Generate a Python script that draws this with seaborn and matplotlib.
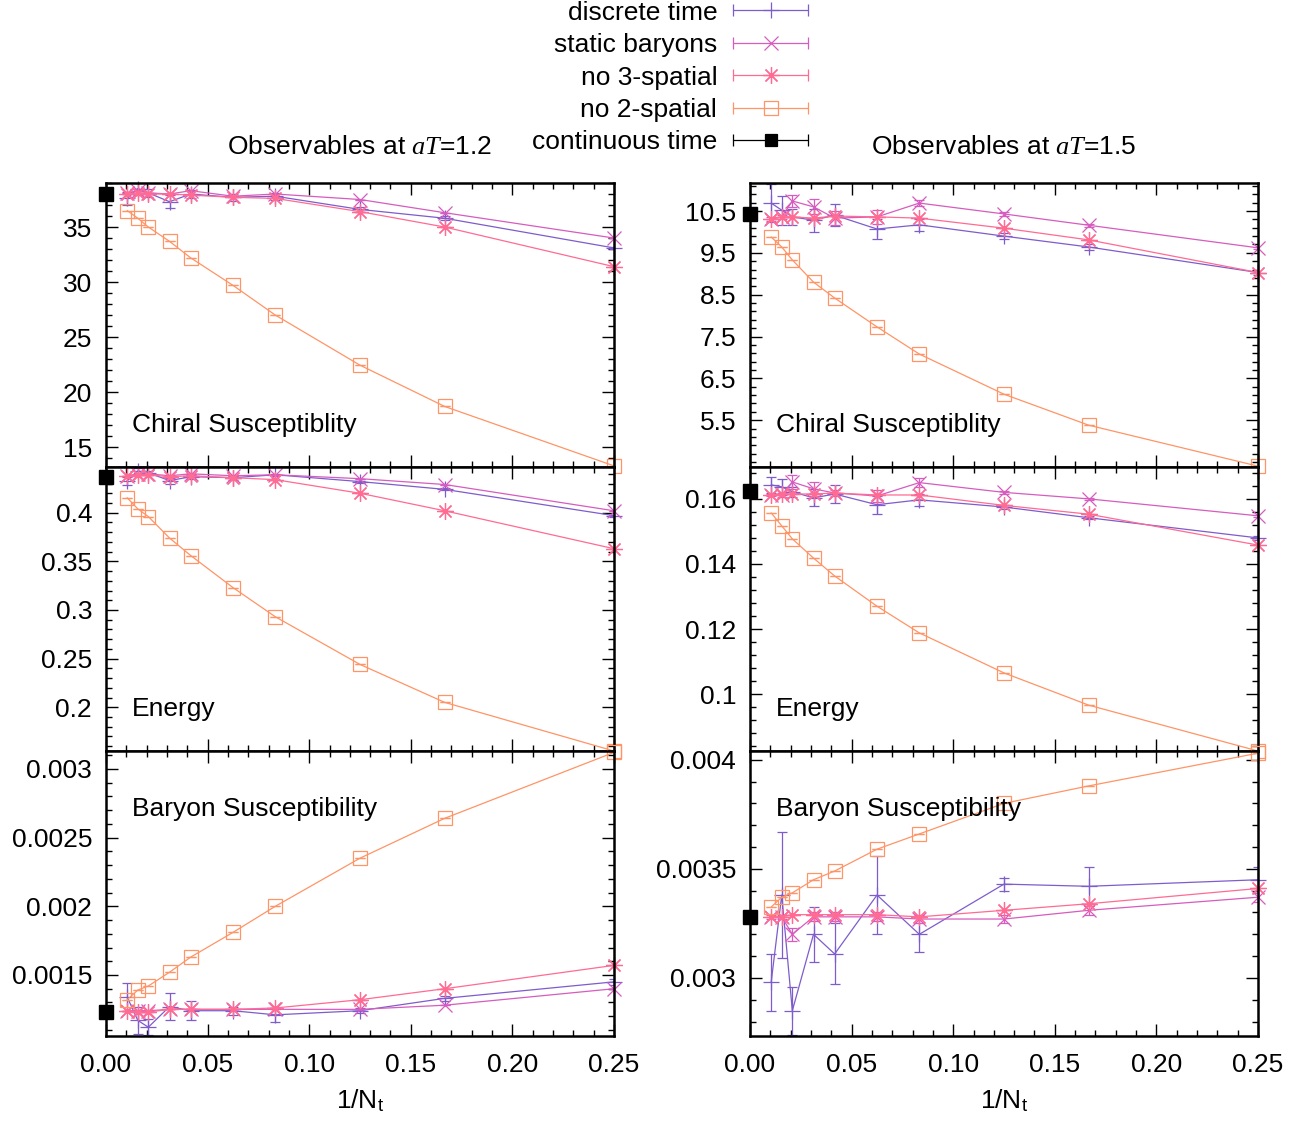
import numpy as np
import pandas as pd
import matplotlib
matplotlib.use("Agg")
import matplotlib.pyplot as plt
import seaborn as sns
from matplotlib.lines import Line2D
from matplotlib.legend_handler import HandlerLine2D
from matplotlib.ticker import FixedLocator, FixedFormatter, AutoMinorLocator, NullFormatter

# ---------------- data ----------------
nt = [96, 64, 48, 32, 24, 16, 12, 8, 6, 4]
series_names = ["discrete time", "static baryons", "no 3-spatial", "no 2-spatial"]
legend_labels = ["discrete time", "static baryons", "no 3-spatial", "no 2-spatial", "continuous time"]

# aT = 1.2, chiral susceptibility
chi12_disc = [37.6, 38.5, 38.1, 37.3, 38.0, 37.7, 37.8, 36.6, 35.8, 33.1]
chi12_disc_err = [0.6, 0.6, 0.4, 0.6, 0.4, 0.3, 0.3, 0.2, 0.2, 0.1]
chi12_stat = [38.1, 38.3, 38.1, 38.0, 38.3, 37.8, 38.0, 37.5, 36.3, 34.0]
chi12_no3 = [38.0, 38.1, 38.0, 38.0, 37.9, 37.7, 37.6, 36.4, 35.0, 31.4]
chi12_no2 = [36.5, 35.8, 35.0, 33.7, 32.2, 29.7, 27.0, 22.45, 18.7, 13.3]
chi12_cont = 38.0

# aT = 1.5, chiral susceptibility
chi15_disc = [10.69, 10.52, 10.36, 10.28, 10.40, 10.07, 10.17, 9.90, 9.64, 9.03]
chi15_disc_err = [0.45, 0.35, 0.2, 0.28, 0.27, 0.24, 0.14, 0.08, 0.08, 0.05]
chi15_stat = [10.31, 10.36, 10.74, 10.60, 10.33, 10.36, 10.69, 10.43, 10.16, 9.62]
chi15_stat_err = [0.05, 0.05, 0.14, 0.18, 0.16, 0.16, 0.08, 0.05, 0.04, 0.03]
chi15_no3 = [10.31, 10.36, 10.36, 10.33, 10.38, 10.36, 10.33, 10.09, 9.81, 9.03]
chi15_no2 = [9.88, 9.64, 9.33, 8.80, 8.42, 7.73, 7.08, 6.12, 5.38, 4.40]
chi15_cont = 10.43

# aT = 1.2, energy
en12_disc = [0.433, 0.443, 0.441, 0.433, 0.437, 0.436, 0.439, 0.432, 0.424, 0.397]
en12_disc_err = [0.004, 0.003, 0.002, 0.003, 0.002, 0.002, 0.001, 0.001, 0.001, 0.001]
en12_stat = [0.438, 0.440, 0.440, 0.438, 0.440, 0.438, 0.439, 0.435, 0.429, 0.402]
en12_no3 = [0.438, 0.439, 0.439, 0.437, 0.438, 0.436, 0.434, 0.420, 0.402, 0.363]
en12_no2 = [0.4154, 0.404, 0.396, 0.374, 0.356, 0.323, 0.293, 0.244, 0.205, 0.155]
en12_cont = 0.437

# aT = 1.5, energy
en15_disc = [0.1643, 0.1637, 0.1622, 0.1603, 0.1615, 0.1582, 0.1597, 0.1575, 0.1542, 0.1480]
en15_disc_err = [0.0025, 0.0025, 0.0015, 0.0026, 0.0028, 0.0028, 0.0018, 0.0006, 0.0005, 0.0005]
en15_stat = [0.1612, 0.1612, 0.1652, 0.1631, 0.1618, 0.1609, 0.1650, 0.1620, 0.1600, 0.1548]
en15_stat_err = [0.0004, 0.0005, 0.0022, 0.0022, 0.0010, 0.0018, 0.0013, 0.0004, 0.0003, 0.0003]
en15_no3 = [0.1612, 0.1615, 0.1615, 0.1615, 0.1618, 0.1612, 0.1612, 0.1580, 0.1553, 0.1458]
en15_no2 = [0.1557, 0.1517, 0.1477, 0.1418, 0.1363, 0.1270, 0.1188, 0.1065, 0.0966, 0.0825]
en15_cont = 0.1625

# aT = 1.2, baryon susceptibility
bs12_disc = [0.00134, 0.00117, 0.00112, 0.00127, 0.00124, 0.00124, 0.00121, 0.00124, 0.00133, 0.00145]
bs12_disc_err = [0.0001, 0.0001, 0.00006, 0.0001, 0.00007, 0.00003, 0.00005, 0.00002, 0.00002, 0.00002]
bs12_stat = [0.00124, 0.00124, 0.00124, 0.00125, 0.00125, 0.00125, 0.00125, 0.00125, 0.00128, 0.00140]
bs12_no3 = [0.00124, 0.00123, 0.00123, 0.00125, 0.00125, 0.00125, 0.00126, 0.00132, 0.00140, 0.00157]
bs12_no2 = [0.00132, 0.00139, 0.00142, 0.00152, 0.00163, 0.00181, 0.00200, 0.00235, 0.00264, 0.00312]
bs12_cont = 0.00123

# aT = 1.5, baryon susceptibility
bs15_disc = [0.00298, 0.00338, 0.00285, 0.00320, 0.00311, 0.00338, 0.00320, 0.00343, 0.00342, 0.00345]
bs15_disc_err = [0.00013, 0.00029, 0.00011, 0.000125, 0.00014, 0.00018, 0.00008, 0.00003, 0.00009, 0.00006]
bs15_stat = [0.00328, 0.00328, 0.00320, 0.00328, 0.00328, 0.00328, 0.00327, 0.00327, 0.00331, 0.00337]
bs15_stat_err = [0.00001, 0.00001, 0.00003, 0.00002, 0.00002, 0.00002, 0.00002, 0.00002, 0.00002, 0.00002]
bs15_no3 = [0.00328, 0.00328, 0.00329, 0.00329, 0.00329, 0.00329, 0.00328, 0.00331, 0.00334, 0.00341]
bs15_no2 = [0.003325, 0.00337, 0.00339, 0.00345, 0.00349, 0.00359, 0.00366, 0.00380, 0.00388, 0.00403]
bs15_cont = 0.00328

# ticks
xticks = [0.0, 0.05, 0.10, 0.15, 0.20, 0.25]
xticklabels = ["0.00", "0.05", "0.10", "0.15", "0.20", "0.25"]
chi12_ticks = [15, 20, 25, 30, 35]
chi12_ticklabels = ["15", "20", "25", "30", "35"]
chi15_ticks = [5.5, 6.5, 7.5, 8.5, 9.5, 10.5]
chi15_ticklabels = ["5.5", "6.5", "7.5", "8.5", "9.5", "10.5"]
en12_ticks = [0.2, 0.25, 0.3, 0.35, 0.4]
en12_ticklabels = ["0.2", "0.25", "0.3", "0.35", "0.4"]
en15_ticks = [0.1, 0.12, 0.14, 0.16]
en15_ticklabels = ["0.1", "0.12", "0.14", "0.16"]
bs12_ticks = [0.0015, 0.002, 0.0025, 0.003]
bs12_ticklabels = ["0.0015", "0.002", "0.0025", "0.003"]
bs15_ticks = [0.003, 0.0035, 0.004]
bs15_ticklabels = ["0.003", "0.0035", "0.004"]

# ---------------- style ----------------
sns.set_theme(style="ticks")
plt.rcParams["font.family"] = ["Liberation Sans", "DejaVu Sans"]
plt.rcParams["mathtext.fontset"] = "custom"
plt.rcParams["mathtext.rm"] = "Liberation Sans"
plt.rcParams["mathtext.it"] = "Liberation Serif:italic"
for key in ["text.color", "axes.labelcolor", "xtick.color", "ytick.color",
            "xtick.labelcolor", "ytick.labelcolor", "axes.edgecolor"]:
    plt.rcParams[key] = "black"
FS = 19

styles = {
    "discrete time": dict(color="#7e5ccc", marker="+", ms=11, mfc="#7e5ccc"),
    "static baryons": dict(color="#d65cbf", marker="x", ms=10, mfc="#d65cbf"),
    "no 3-spatial": dict(color="#ff6b93", marker=(8, 2, 0), ms=12, mfc="#ff6b93"),
    "no 2-spatial": dict(color="#ff9466", marker="s", ms=10, mfc="none"),
}

x = 1.0 / np.array(nt, dtype=float)

fig = plt.figure(figsize=(13.16, 11.22), dpi=100)
W, H = 1316.0, 1122.0

def make_ax(x0, x1, y0, y1):
    return fig.add_axes([x0 / W, 1 - y1 / H, (x1 - x0) / W, (y1 - y0) / H])

panels = [
    ((106, 614, 183, 467), [chi12_disc, chi12_stat, chi12_no3, chi12_no2],
     [chi12_disc_err, 0, 0, 0], chi12_cont, (13.2, 39.0), chi12_ticks, chi12_ticklabels,
     "Chiral Susceptiblity", 0.148, False, r"Observables at $aT$=1.2"),
    ((106, 614, 467, 751), [en12_disc, en12_stat, en12_no3, en12_no2],
     [en12_disc_err, 0, 0, 0], en12_cont, (0.155, 0.447), en12_ticks, en12_ticklabels,
     "Energy", 0.148, False, None),
    ((106, 614, 751, 1036), [bs12_disc, bs12_stat, bs12_no3, bs12_no2],
     [bs12_disc_err, 0, 0, 0], bs12_cont, (0.001056, 0.00313), bs12_ticks, bs12_ticklabels,
     "Baryon Susceptibility", 0.796, True, None),
    ((750, 1258, 183, 467), [chi15_disc, chi15_stat, chi15_no3, chi15_no2],
     [chi15_disc_err, chi15_stat_err, 0, 0], chi15_cont, (4.38, 11.17), chi15_ticks, chi15_ticklabels,
     "Chiral Susceptiblity", 0.148, False, r"Observables at $aT$=1.5"),
    ((750, 1258, 467, 751), [en15_disc, en15_stat, en15_no3, en15_no2],
     [en15_disc_err, en15_stat_err, 0, 0], en15_cont, (0.0825, 0.1698), en15_ticks, en15_ticklabels,
     "Energy", 0.148, False, None),
    ((750, 1258, 751, 1036), [bs15_disc, bs15_stat, bs15_no3, bs15_no2],
     [bs15_disc_err, bs15_stat_err, 0, 0], bs15_cont, (0.002734, 0.00404), bs15_ticks, bs15_ticklabels,
     "Baryon Susceptibility", 0.796, True, None),
]

for box, ys, errs, cont, ylim, yt, ytl, label, ly, show_x, title in panels:
    ax = make_ax(*box)
    for name, y, err in zip(series_names, ys, errs):
        st = styles[name]
        df = pd.DataFrame({"x": x, "y": y})
        sns.lineplot(data=df, x="x", y="y", ax=ax, color=st["color"], linewidth=0.9,
                     marker=st["marker"], ms=st["ms"], mew=0.9, mec=st["color"],
                     mfc=st["mfc"], clip_on=False, legend=False, errorbar=None)
        ax.errorbar(x, y, yerr=err, fmt="none", ecolor=st["color"], elinewidth=0.9,
                    capsize=3.6, capthick=0.9)
    ax.plot([0.0], [cont], ls="none", marker="s", ms=9.5, color="black",
            clip_on=False, zorder=10)
    ax.set_xlim(0, 0.25)
    ax.set_ylim(*ylim)
    ax.set_xlabel("")
    ax.set_ylabel("")
    ax.xaxis.set_major_locator(FixedLocator(xticks))
    ax.yaxis.set_major_locator(FixedLocator(yt))
    ax.yaxis.set_major_formatter(FixedFormatter(ytl))
    ax.xaxis.set_minor_locator(AutoMinorLocator(5))
    ax.yaxis.set_minor_locator(AutoMinorLocator(5))
    if show_x:
        ax.xaxis.set_major_formatter(FixedFormatter(xticklabels))
        ax.set_xlabel(r"1/N$_\mathrm{t}$", fontsize=FS, labelpad=8, color="black")
    else:
        ax.xaxis.set_major_formatter(NullFormatter())
    ax.tick_params(which="both", direction="in", top=True, right=True, colors="black")
    ax.tick_params(which="major", length=8.5, width=1.0, labelsize=FS)
    ax.tick_params(which="minor", length=4.5, width=1.0)
    ax.tick_params(axis="x", which="major", pad=12)
    ax.tick_params(axis="y", which="major", pad=10)
    for sp in ax.spines.values():
        sp.set_linewidth(1.8)
        sp.set_color("black")
    ax.text(0.051, ly, label, transform=ax.transAxes, fontsize=FS, va="center",
            ha="left", color="black")
    if title:
        ax.set_title(title, fontsize=FS, pad=21, color="black")

# legend
handles = []
hmap = {}
leg_styles = [styles[n] for n in series_names] + [dict(color="black", marker="s", ms=9, mfc="black")]
for st in leg_styles:
    cap = Line2D([], [], color=st["color"], lw=0.9, marker="|", ms=8, mew=0.9)
    mk = Line2D([], [], color=st["color"], ls="none", marker=st["marker"], ms=st["ms"],
                mfc=st["mfc"], mec=st["color"], mew=0.9)
    hmap[cap] = HandlerLine2D(numpoints=2, marker_pad=0)
    handles.append((cap, mk))

leg = fig.legend(handles, legend_labels, handler_map=hmap, loc="center right",
                 bbox_to_anchor=(808 / W, 1 - 77.5 / H), frameon=False, fontsize=FS,
                 markerfirst=False, handlelength=2.84, handletextpad=0.6,
                 labelspacing=0.32, borderpad=0, borderaxespad=0)
for t in leg.get_texts():
    t.set_color("black")

fig.savefig("out.png", dpi=100)
